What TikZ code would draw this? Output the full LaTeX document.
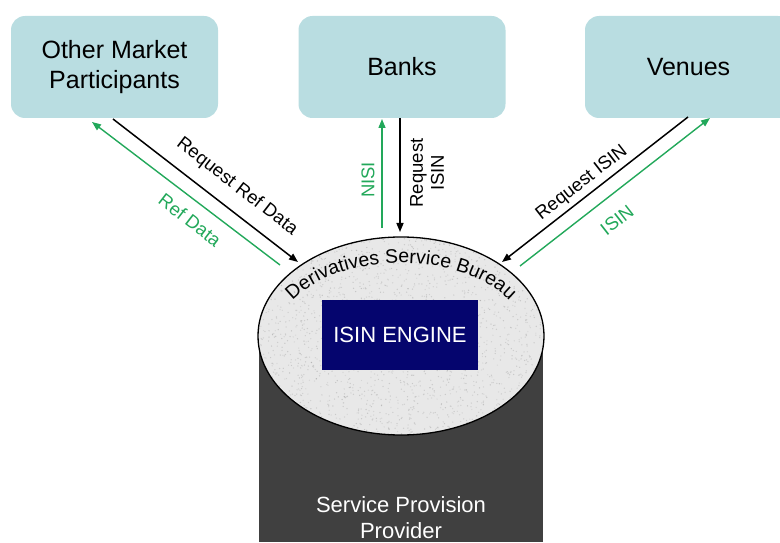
\documentclass[tikz,border=0pt]{standalone}
\usepackage{fontspec}
\setmainfont{Liberation Sans}
\usetikzlibrary{arrows.meta,decorations.text,shapes.geometric}
\definecolor{boxfill}{RGB}{185,221,225}
\definecolor{arrgreen}{RGB}{34,168,90}
\definecolor{engine}{RGB}{5,5,110}
\definecolor{cyl}{RGB}{64,64,64}
\definecolor{disc}{RGB}{232,232,232}
\begin{document}
\begin{tikzpicture}[x=1pt,y=1pt,
 party/.style={fill=boxfill, rounded corners=14pt, minimum width=207pt, minimum height=102pt, align=center, font=\fontsize{25}{30}\selectfont, inner sep=0pt},
 blackarrow/.style={draw=black, line width=1.5pt, -{Triangle[length=9pt,width=7pt]}},
 greenarrow/.style={draw=arrgreen, line width=1.4pt, -{Triangle[length=9pt,width=7pt]}},
 lbl/.style={font=\fontsize{18.5}{21}\selectfont, inner sep=0pt, align=center},
 whitetext/.style={text=white, font=\fontsize{22}{26}\selectfont, inner sep=0pt}
 ]
\useasboundingbox (0,0) rectangle (780,542);
\clip (0,0) rectangle (780,542);
% participants
\node[party] (omp) at (114.5,475) {Other Market\\Participants};
\node[party] (banks) at (402,475) {Banks};
\node[party] (venues) at (688.5,475) {Venues};
% cylinder
\node[fill=cyl, minimum width=284pt, minimum height=206pt, anchor=north, inner sep=0pt] (body) at (401,206) {};
\node[ellipse, fill=disc, minimum width=286pt, minimum height=198pt, inner sep=0pt] (disc) at (401,206) {};
\begin{scope}
  \clip (401,206) ellipse [x radius=143, y radius=99];
  \pgfmathsetseed{7}
  \foreach \i in {1,...,2200} {
    \pgfmathsetmacro{\px}{258+286*rnd}
    \pgfmathsetmacro{\py}{107+198*rnd}
    \pgfmathsetmacro{\sh}{40+40*rnd}
    \fill[black!\sh!white, opacity=0.2] (\px,\py) circle (0.7);
  }
\end{scope}
\draw[black, line width=1.3pt] (disc.center) ellipse [x radius=143, y radius=99];
\path[decorate, decoration={text along path, text align=center, text={|\fontsize{19.5}{22}\selectfont|Derivatives Service Bureau}}]
  (401,206) ++(154:124 and 73) arc[start angle=154, end angle=26, x radius=124, y radius=73];
\node[fill=engine, text=white, minimum width=156pt, minimum height=70pt, inner sep=0pt, font=\fontsize{22}{24}\selectfont] (engine) at (400,207) {ISIN ENGINE};
\node[whitetext, anchor=base] (spp1) at (401,30) {Service Provision};
\node[whitetext, anchor=base] (spp2) at (401,4) {Provider};
% connector ends
\coordinate (ompA) at (113,423); \coordinate (discA) at (298,280);
\coordinate (discB) at (280,277); \coordinate (ompB) at (92,420);
\coordinate (banksA) at (400,424); \coordinate (discC) at (400,310);
\coordinate (discD) at (382,314); \coordinate (banksB) at (382,423);
\coordinate (venA) at (688,425); \coordinate (discE) at (502,280);
\coordinate (discF) at (520,276); \coordinate (venB) at (710,424);
% arrows
\draw[blackarrow] (ompA) -- (discA);
\draw[greenarrow] (discB) -- (ompB);
\draw[blackarrow] (banksA) -- (discC);
\draw[greenarrow] (discD) -- (banksB);
\draw[blackarrow] (venA) -- (discE);
\draw[greenarrow] (discF) -- (venB);
% labels
\node[lbl, rotate=-37.7] (l1) at (237,355) {Request Ref Data};
\node[lbl, rotate=-37.7, text=arrgreen] (l2) at (190,322) {Ref Data};
\node[lbl, rotate=90, text=arrgreen] (l3) at (368,362) {NISI};
\node[lbl, rotate=90] (l4) at (427,369) {Request\\ISIN};
\node[lbl, rotate=37.9] (l5) at (582,359) {Request ISIN};
\node[lbl, rotate=37.9, text=arrgreen] (l6) at (617,322) {ISIN};
\end{tikzpicture}
\end{document}
